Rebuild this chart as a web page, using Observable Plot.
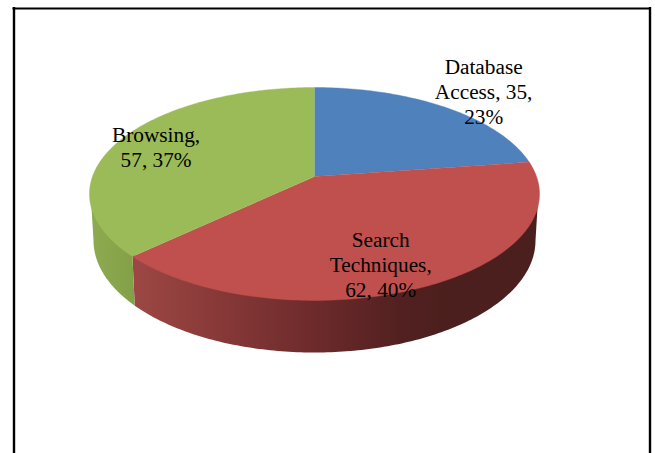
<!DOCTYPE html>
<html>
<head>
<meta charset="utf-8">
<style>html,body{margin:0;padding:0;background:#fff}svg{display:block}</style>
<script src="https://cdn.jsdelivr.net/npm/d3@7"></script>
<script src="https://cdn.jsdelivr.net/npm/@observablehq/plot@0.6"></script>
</head>
<body>
<div id="chart"></div>
<script>
// Data
const categories = ["Database Access", "Search Techniques", "Browsing"];
const values = [35, 62, 57];
const labelLines = [["Database", "Access, 35,", "23%"], ["Search", "Techniques,", "62, 40%"], ["Browsing,", "57, 37%"]];
const topColors = ["#4f81bd", "#c0504d", "#9bbb59"];

// Perspective camera of the 3-D pie (plot units)
const cx = 314, apexY = 176;
const tilt = 0.164, kx = 222, ky = 103.6;
const topRim = {cy: 194, rx: 225, ry: 107};
const underTop = {cy: 191, rx: 224, ry: 107}; // rim's upper edge, tucked under the top face
const botRim = {cy: 240, rx: 221, ry: 112};

const total = d3.sum(values);
const starts = values.map((_, i) => d3.sum(values.slice(0, i)) / total * 2 * Math.PI);
const ends = values.map((_, i) => d3.sum(values.slice(0, i + 1)) / total * 2 * Math.PI);

function project(theta, r = 1) {
  const px = r * Math.sin(theta), py = r * Math.cos(theta), w = 1 + tilt * py;
  return [cx + kx * px / w, apexY - ky * py / w];
}
// Angle of a slice boundary measured along the drawn rim ellipse
function rimAngle(theta) {
  const [x, y] = project(theta);
  const t = Math.atan2((x - cx) / topRim.rx, (topRim.cy - y) / topRim.ry);
  return t < -1e-9 ? t + 2 * Math.PI : t;
}
const onRim = (rim, t) => [cx + rim.rx * Math.sin(t), rim.cy - rim.ry * Math.cos(t)];

// Shading of the visible rim, left to right (Database Access has no visible rim)
const sideGradients = [
  null,
  {id: "side1", x1: 135, x2: 445, stops: [[0, "#9c4744"], [0.21, "#8c3c3a"], [0.58, "#6d2a2b"], [0.86, "#522020"], [1, "#4b1f1d"]]},
  {id: "side2", x1: 89, x2: 135, stops: [[0, "#8fab52"], [1, "#82a047"]]}
];

const topRows = [], sideRows = [];
values.forEach((_, i) => {
  const n = Math.ceil((ends[i] - starts[i]) / (Math.PI / 180));
  const angles = d3.range(n + 1).map(k => starts[i] + (ends[i] - starts[i]) * k / n);
  topRows.push({id: i, x: cx, y: apexY, color: topColors[i]});
  angles.forEach(a => { const [x, y] = project(a); topRows.push({id: i, x, y, color: topColors[i]}); });

  // the rim shows only on the near half of the ellipse
  const t0 = Math.max(rimAngle(starts[i]), Math.PI / 2);
  const t1 = Math.min(i === values.length - 1 ? 2 * Math.PI : rimAngle(ends[i]), 3 * Math.PI / 2);
  if (t1 > t0) {
    const ts = d3.range(n + 1).map(k => t0 + (t1 - t0) * k / n);
    ts.forEach(t => { const [x, y] = onRim(underTop, t); sideRows.push({id: i, x, y}); });
    ts.slice().reverse().forEach(t => { const [x, y] = onRim(botRim, t); sideRows.push({id: i, x, y}); });
  }
});

const labelPlace = [{r: 0.7, dx: 75.5, dy: -35}, {r: 0.7, dx: -9, dy: 15}, {r: 0.7, dx: -22, dy: -2}];
const labelRows = values.map((_, i) => {
  const [x, y] = project((starts[i] + ends[i]) / 2, labelPlace[i].r);
  return {x: x + labelPlace[i].dx, y: y + labelPlace[i].dy, text: labelLines[i].join("\n")};
});

function gradientDefs(_, scales) {
  const defs = d3.create("svg:defs");
  sideGradients.filter(Boolean).forEach(g => {
    const lg = defs.append("linearGradient").attr("id", g.id).attr("gradientUnits", "userSpaceOnUse")
      .attr("x1", scales.x(g.x1)).attr("x2", scales.x(g.x2)).attr("y1", 0).attr("y2", 0);
    g.stops.forEach(([o, c]) => lg.append("stop").attr("offset", o).attr("stop-color", c));
  });
  return defs.node();
}

const chart = Plot.plot({
  width: 655, height: 453,
  margin: 0,
  x: {domain: [0, 655], range: [0, 655], axis: null},
  y: {domain: [0, 453], range: [0, 453], axis: null},
  color: {type: "identity"},
  style: {background: "#fff"},
  marks: [
    gradientDefs,
    Plot.ruleX([13.5, 649.5], {y1: 7, y2: 453, stroke: "#000", strokeWidth: 2.4}),
    Plot.ruleY([8], {x1: 12.5, x2: 650.5, stroke: "#000", strokeWidth: 2}),
    ...sideGradients.map((g, i) => g ? Plot.line(sideRows.filter(d => d.id === i), {x: "x", y: "y", fill: `url(#${g.id})`, stroke: "none"}) : null),
    Plot.line(topRows, {x: "x", y: "y", z: "id", fill: "color", stroke: "color", strokeWidth: 0.4}),
    Plot.text(labelRows, {x: "x", y: "y", text: "text", fill: "#000", fontSize: 21.3, lineHeight: 1.17, fontFamily: "Liberation Serif", textAnchor: "middle"})
  ]
});
document.getElementById("chart").append(chart);
</script>
</body>
</html>
